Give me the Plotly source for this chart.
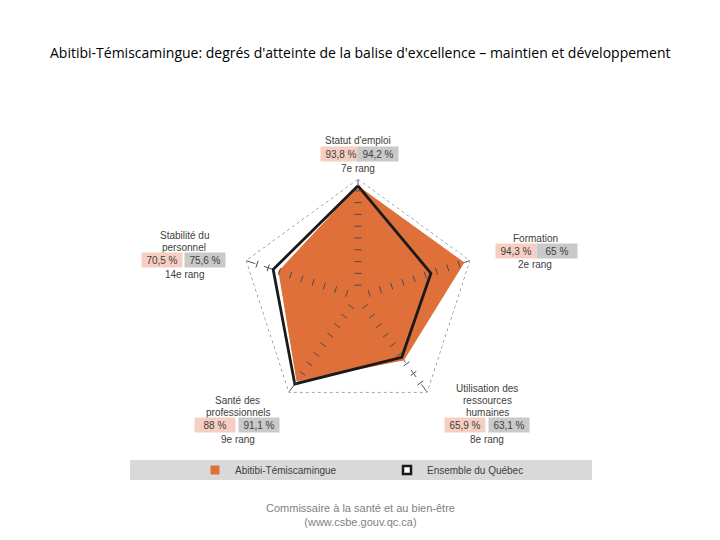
import plotly.graph_objects as go

W, H = 720, 540

categories = ["Statut d'emploi", "Formation", "Utilisation des ressources humaines",
              "Santé des professionnels", "Stabilité du personnel"]
label_lines = [["Statut d'emploi"], ["Formation"], ["Utilisation des", "ressources", "humaines"],
               ["Santé des", "professionnels"], ["Stabilité du", "personnel"]]
region_values = [93.8, 94.3, 65.9, 88.0, 70.5]
quebec_values = [94.2, 65.0, 63.1, 91.1, 75.6]
region_text = ["93,8 %", "94,3 %", "65,9 %", "88 %", "70,5 %"]
quebec_text = ["94,2 %", "65 %", "63,1 %", "91,1 %", "75,6 %"]
ranks = ["7e rang", "2e rang", "8e rang", "9e rang", "14e rang"]
tick_values = [10, 20, 30, 40, 50, 60, 70, 80, 90]
r_max = 100

region_name = "Abitibi-Témiscamingue"
quebec_name = "Ensemble du Québec"

ORANGE = "#E0703A"
PINK = "#F6CFC2"
GREYBOX = "#C9C9C9"
TXT = "#404040"
FONT = "Liberation Sans"

# page offset of the plot div (body margin) and polar geometry (pixels)
OFF = 8
CX, CY, R = 358, 297, 118

def px(x):
    return (x - OFF) / W

def py(y):
    return 1 - (y - OFF) / H

fig = go.Figure()

# outer reference ring (at the axis maximum)
fig.add_trace(go.Scatterpolar(
    r=[r_max] * (len(categories) + 1), theta=categories + categories[:1], mode="lines",
    line=dict(color="#555555", width=1, dash="dot"), showlegend=False, hoverinfo="skip"))

fig.add_trace(go.Scatterpolar(
    r=region_values + region_values[:1], theta=categories + categories[:1],
    mode="lines", fill="toself", fillcolor=ORANGE,
    line=dict(color=ORANGE, width=1), name=region_name, showlegend=False))

fig.add_trace(go.Scatterpolar(
    r=quebec_values + quebec_values[:1], theta=categories + categories[:1],
    mode="lines", line=dict(color="#1a1a1a", width=2.8), name=quebec_name,
    showlegend=False))

# tick marks across each spoke
tr, tt, ta = [], [], []
for i, c in enumerate(categories):
    for v in tick_values:
        tr.append(v)
        tt.append(c)
        ta.append(i * 72)
fig.add_trace(go.Scatterpolar(
    r=tr, theta=tt, mode="markers", showlegend=False, hoverinfo="skip",
    marker=dict(symbol="line-ew", size=5, angle=ta,
                line=dict(color="#4a4a4a", width=1))))

# legend entries (square swatches)
fig.add_trace(go.Scatterpolar(r=[None], theta=[categories[0]], mode="markers", name=region_name,
                              marker=dict(symbol="square", size=9, color=ORANGE,
                                          line=dict(width=0))))
fig.add_trace(go.Scatterpolar(r=[None], theta=[categories[0]], mode="markers", name=quebec_name,
                              marker=dict(symbol="square", size=8, color="white",
                                          line=dict(width=2.5, color="#1a1a1a"))))

fig.update_layout(
    width=W, height=H, margin=dict(l=0, r=0, t=0, b=0),
    paper_bgcolor="white", plot_bgcolor="white",
    font=dict(family=FONT, color=TXT),
    polar=dict(
        domain=dict(x=[px(CX - R), px(CX + R)], y=[py(CY + R), py(CY - R)]),
        gridshape="linear", bgcolor="rgba(0,0,0,0)",
        radialaxis=dict(range=[0, r_max], showticklabels=False, ticks="",
                        showline=False, showgrid=False),
        angularaxis=dict(direction="clockwise", rotation=90, showticklabels=False,
                         ticks="", showline=False, showgrid=True, gridcolor="#555555",
                         griddash="dash", gridwidth=1, layer="above traces"),
    ),
    legend=dict(orientation="h", x=px(195), y=py(470), xanchor="left", yanchor="middle",
                bgcolor="rgba(0,0,0,0)", font=dict(size=10, color=TXT, family=FONT),
                entrywidth=147, itemwidth=30, traceorder="normal"),
    showlegend=True,
)

# legend band
fig.add_shape(type="rect", xref="paper", yref="paper", x0=px(130), x1=px(592),
              y0=py(480), y1=py(460), fillcolor="#D9D9D9", line=dict(width=0), layer="below")

# title
fig.add_annotation(text="Abitibi-Témiscamingue: degrés d'atteinte de la balise d'excellence – maintien et développement",
                   xref="paper", yref="paper", x=px(360), y=py(52), showarrow=False,
                   font=dict(size=14, color="#000000", family="Open Sans"),
                   xanchor="center", yanchor="middle")

# footer
fig.add_annotation(text="Commissaire à la santé et au bien-être<br>(www.csbe.gouv.qc.ca)",
                   xref="paper", yref="paper", x=px(360), y=py(515), showarrow=False,
                   font=dict(size=11, color="#7f7f7f", family=FONT),
                   xanchor="center", yanchor="middle")

# category label blocks: (center x, first line y, pink box center x, grey box center x)
label_pos = [(358, 141, 341, 378), (535, 238, 516, 557), (487, 388, 465, 509),
             (238, 400, 215, 259), (184, 235, 162, 205)]
LINE = 12
for i in range(len(categories)):
    cx, y0, pxk, gxk = label_pos[i]
    lines = label_lines[i]
    for j, t in enumerate(lines):
        fig.add_annotation(text=t, xref="paper", yref="paper", x=px(cx), y=py(y0 + j * LINE),
                           showarrow=False, font=dict(size=10, color=TXT, family=FONT),
                           xanchor="center", yanchor="middle")
    yb = y0 + len(lines) * LINE + 1
    fig.add_annotation(text=region_text[i], xref="paper", yref="paper", x=px(pxk), y=py(yb),
                       showarrow=False, font=dict(size=10, color=TXT, family=FONT),
                       bgcolor=PINK, width=38, height=12, xanchor="center", yanchor="middle")
    fig.add_annotation(text=quebec_text[i], xref="paper", yref="paper", x=px(gxk), y=py(yb),
                       showarrow=False, font=dict(size=10, color=TXT, family=FONT),
                       bgcolor=GREYBOX, width=38, height=12, xanchor="center", yanchor="middle")
    fig.add_annotation(text=ranks[i], xref="paper", yref="paper", x=px(cx), y=py(yb + 14),
                       showarrow=False, font=dict(size=10, color=TXT, family=FONT),
                       xanchor="center", yanchor="middle")

fig.write_html("out.html")
